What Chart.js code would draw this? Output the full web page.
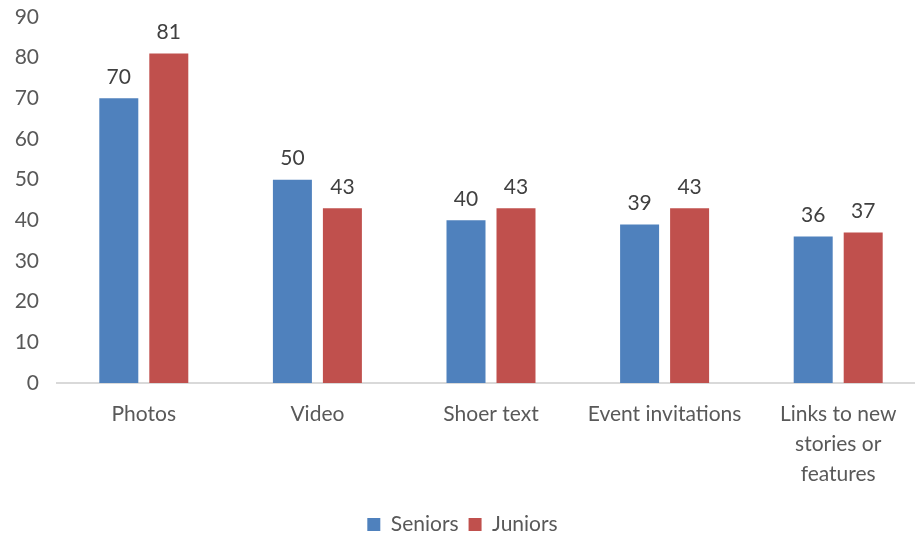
<!DOCTYPE html>
<html>
<head>
<meta charset="utf-8">
<script src="https://cdn.jsdelivr.net/npm/chart.js@4"></script>
<style>
    html, body { margin: 0; padding: 0; background: #fff; overflow: hidden; }
    #wrap { width: 925px; height: 536px; }
</style>
</head>
<body>
<div id="wrap"><canvas id="chart"></canvas></div>
<script>
var categories = ["Photos", "Video", "Shoer text", "Event invitations", ["Links to new", "stories or", "features"]];
var seniors = [70, 50, 40, 39, 36];
var juniors = [81, 43, 43, 43, 37];
var yTicks = [0, 10, 20, 30, 40, 50, 60, 70, 80, 90];

var fontFamily = "Lato, 'Open Sans', sans-serif";

// prints each bar's value just above it
var valueLabels = {
    id: 'valueLabels',
    afterDatasetsDraw: function(chart) {
        var ctx = chart.ctx;
        ctx.save();
        ctx.font = "21px " + fontFamily;
        ctx.fillStyle = "#404040";
        ctx.textAlign = "center";
        ctx.textBaseline = "middle";
        chart.data.datasets.forEach(function(ds, i) {
            chart.getDatasetMeta(i).data.forEach(function(bar, j) {
                ctx.fillText(ds.data[j], bar.x, bar.y - 21);
            });
        });
        ctx.restore();
    }
};

new Chart(document.getElementById("chart").getContext('2d'), {
    type: 'bar',
    data: {
        labels: categories,
        datasets: [{
            label: "Seniors",
            data: seniors,
            backgroundColor: "#4f81bd",
            barPercentage: 0.78,
            categoryPercentage: 0.576
        }, {
            label: "Juniors",
            data: juniors,
            backgroundColor: "#c0504d",
            barPercentage: 0.78,
            categoryPercentage: 0.576
        }]
    },
    options: {
        responsive: true,
        maintainAspectRatio: false,
        animation: false,
        layout: { padding: { top: 17, right: 0, left: 0, bottom: -9 } },
        plugins: {
            tooltip: { enabled: false },
            legend: {
                position: 'bottom',
                labels: {
                    font: { size: 21, family: fontFamily },
                    color: "#595959",
                    boxWidth: 13,
                    boxHeight: 13,
                    padding: 10
                }
            }
        },
        scales: {
            x: {
                grid: { display: false },
                border: { color: "#d9d9d9", width: 2 },
                ticks: {
                    color: "#595959",
                    font: { size: 21, family: fontFamily, lineHeight: 1.43 },
                    maxRotation: 0,
                    padding: 8
                },
                afterFit: function(scale) { scale.height = 121; }
            },
            y: {
                min: 0,
                max: 90,
                grid: { display: false },
                border: { display: false },
                afterBuildTicks: function(scale) {
                    scale.ticks = yTicks.map(function(v) { return { value: v }; });
                },
                ticks: {
                    color: "#595959",
                    font: { size: 21, family: fontFamily },
                    padding: 10
                },
                afterFit: function(scale) {
                    scale.width = 57;
                    scale.paddingTop = 0;
                    scale.paddingBottom = 0;
                }
            }
        }
    },
    plugins: [valueLabels]
});
</script>
</body>
</html>
